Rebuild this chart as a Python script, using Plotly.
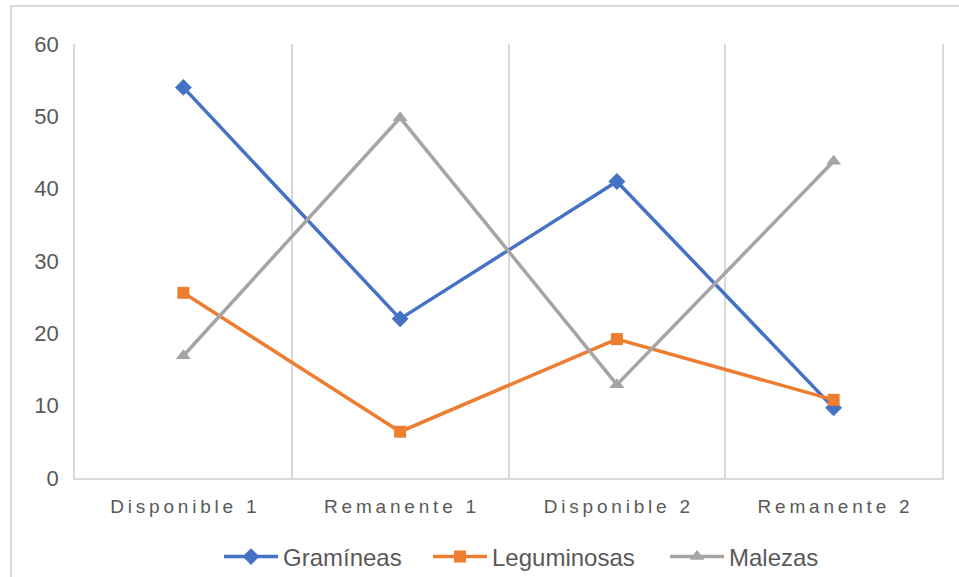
import plotly.graph_objects as go

categories = ["Disponible 1", "Remanente 1", "Disponible 2", "Remanente 2"]
gramineas = [54, 22, 41, 9.7]
leguminosas = [25.6, 6.4, 19.2, 10.8]
malezas = [16.9, 49.8, 12.9, 43.8]
y_ticks = [0, 10, 20, 30, 40, 50, 60]

def spaced(s, sp="\u2009"):
    return sp.join(list(s))

tick_text = [spaced(c) for c in categories]

W, H = 959, 577
ML, MR, MT, MB = 75, 17, 44, 99
pw, ph = W - ML - MR, H - MT - MB

fig = go.Figure()
series = [
    ("Gramíneas", gramineas, "#4472C4", "diamond", 13, "legend", 226),
    ("Leguminosas", leguminosas, "#ED7D31", "square", 12, "legend2", 435),
    ("Malezas", malezas, "#A5A5A5", "triangle-up", 13, "legend3", 672),
]
legends = {}
for name, vals, col, sym, size, lg, lx in series:
    fig.add_trace(go.Scatter(
        x=categories, y=vals, name=name, mode="lines+markers",
        line=dict(color=col, width=3.5),
        marker=dict(symbol=sym, size=size, color=col),
        legend=lg,
    ))
    legends[lg] = dict(orientation="h", xref="container", x=(lx - 7) / W, xanchor="left",
                       yref="container", y=(H - 557) / H, yanchor="middle",
                       font=dict(size=24, color="#595959"), itemwidth=54,
                       bgcolor="rgba(0,0,0,0)")

fig.update_layout(
    width=W, height=H,
    margin=dict(l=ML, r=MR, t=MT, b=MB, pad=0, autoexpand=False),
    paper_bgcolor="white", plot_bgcolor="white",
    font=dict(family="Liberation Sans, Arial, sans-serif", color="#595959"),
    showlegend=True,
    xaxis=dict(type="category", categoryorder="array", categoryarray=categories,
               tickvals=categories, ticktext=tick_text,
               range=[-0.5, 3.5], tickson="boundaries", showgrid=True,
               gridcolor="#d9d9d9", gridwidth=1.5, ticks="", showline=True,
               linecolor="#d9d9d9", linewidth=1.5, zeroline=False,
               tickfont=dict(size=19, color="#595959"), ticklabelstandoff=10),
    yaxis=dict(range=[0, 60], tickvals=y_ticks, showgrid=False, zeroline=False,
               showline=True, linecolor="#d9d9d9", linewidth=1.5, mirror=True, ticks="",
               tickfont=dict(size=22, color="#595959"), ticklabelstandoff=10),
    shapes=[dict(type="rect", xref="paper", yref="paper",
                 x0=(11 - ML) / pw, x1=(W + 20 - ML) / pw,
                 y0=(H - MB - (H + 20)) / ph, y1=(H - MB - 6) / ph,
                 line=dict(color="#d9d9d9", width=2), fillcolor="rgba(0,0,0,0)",
                 layer="below")],
    **legends,
)

fig.write_html("out.html")
